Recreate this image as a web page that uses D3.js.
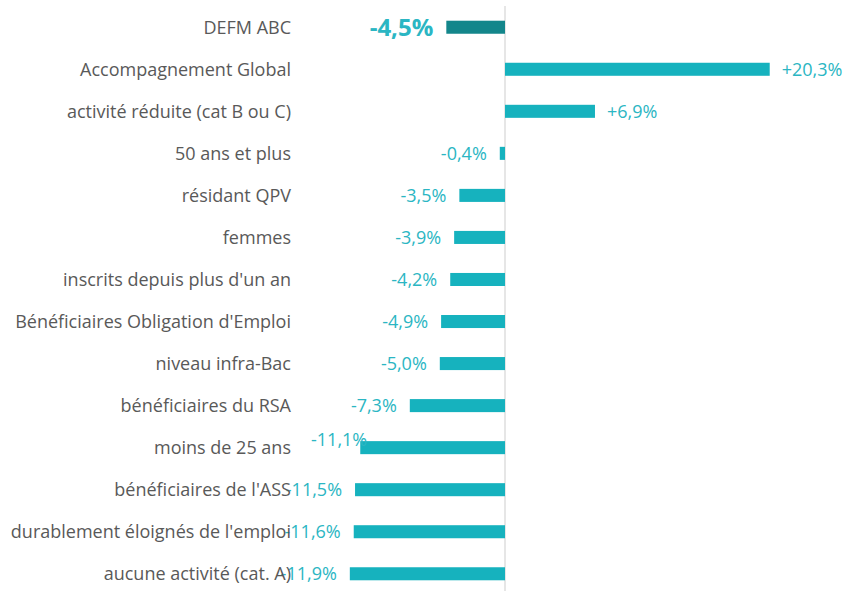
<!DOCTYPE html>
<html>
<head>
<meta charset="utf-8">
<script src="https://cdnjs.cloudflare.com/ajax/libs/d3/7.8.5/d3.min.js"></script>
<style>
  body { margin: 0; background: #fff; }
  text { font-family: "Open Sans", "Noto Sans", sans-serif; }
</style>
</head>
<body>
<div class="container"></div>
<script>
let width = 862;
let height = 591;

const categories = [
    'DEFM ABC',
    'Accompagnement Global',
    'activité réduite (cat B ou C)',
    '50 ans et plus',
    'résidant QPV',
    'femmes',
    "inscrits depuis plus d'un an",
    "Bénéficiaires Obligation d'Emploi",
    'niveau infra-Bac',
    'bénéficiaires du RSA',
    'moins de 25 ans',
    "bénéficiaires de l'ASS",
    "durablement éloignés de l'emploi",
    'aucune activité (cat. A)'
];
const values = [-4.5, 20.3, 6.9, -0.4, -3.5, -3.9, -4.2, -4.9, -5.0, -7.3, -11.1, -11.5, -11.6, -11.9];
const valueLabels = ['-4,5%', '+20,3%', '+6,9%', '-0,4%', '-3,5%', '-3,9%', '-4,2%', '-4,9%', '-5,0%', '-7,3%', '-11,1%', '-11,5%', '-11,6%', '-11,9%'];

const svg = d3.select('.container')
    .append('svg')
    .attr('width', width)
    .attr('height', height);

let x = d3.scaleLinear()
    .domain([-15, 25])
    .range([309.4, 831]);

let y = d3.scaleBand()
    .domain(categories)
    .range([6, 595])
    .paddingInner(0.69)
    .paddingOuter(0.35);

// zero line
svg.append('line')
    .attr('x1', x(0)).attr('x2', x(0))
    .attr('y1', 6).attr('y2', height)
    .attr('stroke', '#d9d9d9')
    .attr('stroke-width', 1.3);

// bars
svg.selectAll('rect.bar')
    .data(values)
    .enter()
    .append('rect')
    .attr('class', 'bar')
    .attr('x', d => x(Math.min(0, d)))
    .attr('width', d => Math.abs(x(d) - x(0)))
    .attr('y', (d, i) => y(categories[i]))
    .attr('height', y.bandwidth())
    .attr('fill', (d, i) => i === 0 ? '#13868b' : '#16b2be');

// value labels (Excel nudged the -11,1% label up onto the bar)
svg.selectAll('text.val')
    .data(values)
    .enter()
    .append('text')
    .attr('class', 'val')
    .attr('x', (d, i) => {
        if (i === 10) return x(d) + 7;
        return d < 0 ? x(d) - 13 : x(d) + 12;
    })
    .attr('y', (d, i) => y(categories[i]) + y.bandwidth() / 2 + (i === 10 ? -8 : 0))
    .attr('dy', '0.35em')
    .attr('text-anchor', d => d < 0 ? 'end' : 'start')
    .attr('fill', '#2bb6c3')
    .style('font-size', (d, i) => i === 0 ? '24px' : '18px')
    .style('font-weight', (d, i) => i === 0 ? 'bold' : 'normal')
    .text((d, i) => valueLabels[i]);

// category labels, drawn last so they sit over long value labels
svg.selectAll('text.cat')
    .data(categories)
    .enter()
    .append('text')
    .attr('class', 'cat')
    .attr('x', 291)
    .attr('y', d => y(d) + y.bandwidth() / 2)
    .attr('dy', '0.35em')
    .attr('text-anchor', 'end')
    .attr('fill', '#595959')
    .style('font-size', '18px')
    .text(d => d);
</script>
</body>
</html>
